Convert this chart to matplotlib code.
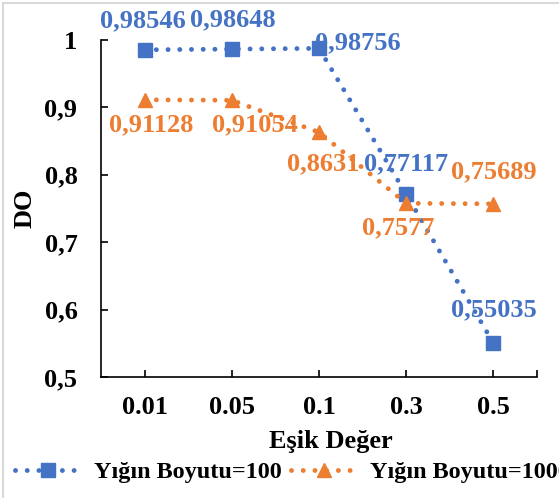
import matplotlib.pyplot as plt
from matplotlib.lines import Line2D

plt.rcParams['font.family'] = ['Liberation Serif', 'DejaVu Serif']
plt.rcParams['font.weight'] = 'bold'

thresholds = ['0.01', '0.05', '0.1', '0.3', '0.5']
do_batch100 = [0.98546, 0.98648, 0.98756, 0.77117, 0.55035]
do_batch1000 = [0.91128, 0.91054, 0.8631, 0.7577, 0.75689]
series_names = ['Yığın Boyutu=100', 'Yığın Boyutu=1000']

# label offsets in points (dx, dy) for each point
offs_100 = [(-1, 21), (1, 21), (28, 4), (0, 22), (0, 24)]
offs_1000 = [(5, -18), (17, -18), (3, -23), (-6, -18), (0, 23)]

blue = '#4472C4'
orange = '#ED7D31'


def comma(v, nd=None):
    s = repr(v) if nd is None else f'{v:.{nd}f}'
    return s.replace('.', ',')


fig = plt.figure(figsize=(5.59, 4.98), dpi=100)
ax = fig.add_axes([0.1807, 0.243, 0.7799, 0.6767])

x = list(range(len(thresholds)))
dots = dict(linestyle=(0, (0.01, 2.4)), dash_capstyle='round', linewidth=3.5)
ax.plot(x, do_batch100, color=blue, marker='s', markersize=10.5, label=series_names[0], **dots)
ax.plot(x, do_batch1000, color=orange, marker='^', markersize=10.5, label=series_names[1], **dots)

for xi, v, o in zip(x, do_batch100, offs_100):
    ax.annotate(comma(v), (xi, v), xytext=o, textcoords='offset points',
                ha='center', va='center', color=blue, fontsize=19, fontweight='bold')
for xi, v, o in zip(x, do_batch1000, offs_1000):
    ax.annotate(comma(v), (xi, v), xytext=o, textcoords='offset points',
                ha='center', va='center', color=orange, fontsize=19, fontweight='bold')

ax.set_xlim(-0.5, 4.5)
ax.set_ylim(0.5, 1.0)
ax.set_xticks(x)
ax.set_xticklabels(thresholds)
ax.set_xticks([4.5], minor=True)
yt = [0.5, 0.6, 0.7, 0.8, 0.9, 1.0]
ax.set_yticks(yt)
ax.set_yticklabels(['1' if v == 1.0 else comma(v, 1) for v in yt])

ax.tick_params(axis='both', which='both', direction='in', length=5, width=1.2,
               labelsize=19, color='black')
ax.tick_params(axis='x', pad=14)
ax.tick_params(axis='y', pad=17)

for s in ['top', 'right']:
    ax.spines[s].set_visible(False)
for s in ['left', 'bottom']:
    ax.spines[s].set_linewidth(1.2)

ax.set_xlabel('Eşik Değer', fontsize=19, fontweight='bold')
ax.xaxis.label.set_va('baseline')
ax.xaxis.set_label_coords(0.5275, -0.211)
ax.set_ylabel('DO', fontsize=19, fontweight='bold')
ax.yaxis.label.set_va('center')
ax.yaxis.set_label_coords(-0.174, 0.501)

fig.legend(loc='center left', bbox_to_anchor=(0.027, 0.052), ncol=2, frameon=False,
           fontsize=17.4, handlelength=2.7, handletextpad=0.55, columnspacing=0.4,
           borderpad=0, borderaxespad=0, numpoints=1)

# light chart border on the left and top
fig.add_artist(Line2D([3 / 559, 3 / 559], [0, 1 - 3 / 498], transform=fig.transFigure,
                      color='#d9d9d9', linewidth=1.5))
fig.add_artist(Line2D([3 / 559, 1], [1 - 3 / 498, 1 - 3 / 498], transform=fig.transFigure,
                      color='#d9d9d9', linewidth=1.5))

fig.savefig('out.png', dpi=100)
